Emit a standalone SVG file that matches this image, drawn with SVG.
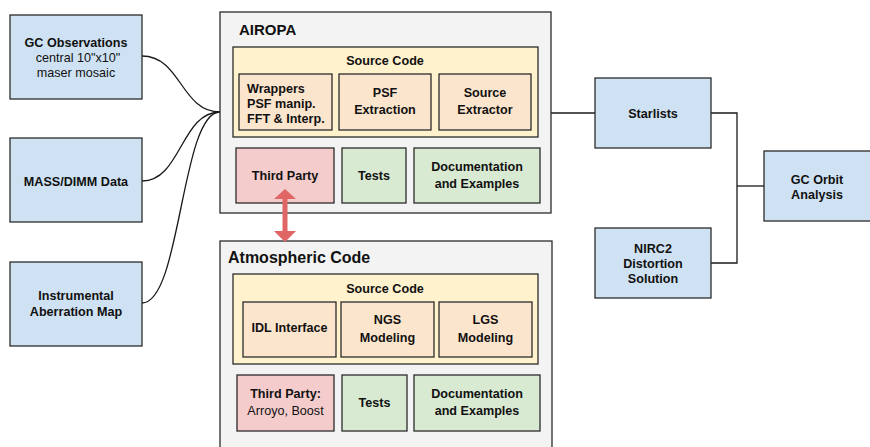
<svg xmlns="http://www.w3.org/2000/svg" width="870" height="447" viewBox="0 0 870 447">
<style>
text{font-family:"Liberation Sans",Arial,sans-serif;font-size:12.6px;font-weight:bold;fill:#111;text-anchor:middle}
.r{font-weight:normal}
.l{text-anchor:start}
.box{stroke:#2b2b2b;stroke-width:1.3}
.blue{fill:#cfe2f3}
.grey{fill:#f3f3f3}
.yellow{fill:#fff2cc}
.orange{fill:#fce5cd}
.red{fill:#f4cccc}
.green{fill:#d9ead3}
.conn{fill:none;stroke:#1a1a1a;stroke-width:1.3}
</style>
<rect width="870" height="447" fill="#ffffff"/>
<g id="connectors">
<path class="conn" d="M142,56 C181,56 181,112 220,112"/>
<path class="conn" d="M142,181 C181,181 181,112 220,112"/>
<path class="conn" d="M142,303 C181,303 181,112 220,112"/>
<path class="conn" d="M551,113 H595"/>
<path class="conn" d="M711,113 H737 V263 H711"/>
<path class="conn" d="M737,186 H764"/>
</g>
<g id="gc-observations">
<rect class="box blue" x="10" y="15" width="132" height="84"/>
<text x="76" y="47">GC Observations</text>
<text class="r" x="78" y="62">central 10"x10"</text>
<text class="r" x="76" y="77">maser mosaic</text>
</g>
<g id="mass-dimm">
<rect class="box blue" x="10" y="138" width="132" height="84"/>
<text x="76" y="186">MASS/DIMM Data</text>
</g>
<g id="instrumental">
<rect class="box blue" x="10" y="262" width="132" height="84"/>
<text x="76" y="300">Instrumental</text>
<text x="76" y="316">Aberration Map</text>
</g>
<g id="airopa">
<rect class="box grey" x="220" y="12" width="331" height="201"/>
<text class="l" x="239" y="35" style="font-size:15px">AIROPA</text>
<g id="airopa-source">
<rect class="box yellow" x="233" y="47" width="305" height="90"/>
<text x="385" y="65">Source Code</text>
</g>
<g id="airopa-wrappers">
<rect class="box orange" x="239" y="74" width="93" height="56"/>
<text class="l" x="247" y="93">Wrappers</text>
<text class="l" x="247" y="108">PSF manip.</text>
<text class="l" x="247" y="123">FFT &amp; Interp.</text>
</g>
<g id="airopa-psf">
<rect class="box orange" x="339" y="74" width="92" height="56"/>
<text x="385" y="97">PSF</text>
<text x="385" y="114">Extraction</text>
</g>
<g id="airopa-sextractor">
<rect class="box orange" x="439" y="74" width="92" height="56"/>
<text x="485" y="97">Source</text>
<text x="485" y="114">Extractor</text>
</g>
<g id="airopa-thirdparty">
<rect class="box red" x="236" y="148" width="98" height="55"/>
<text x="285" y="180">Third Party</text>
</g>
<g id="airopa-tests">
<rect class="box green" x="342" y="148" width="64" height="55"/>
<text x="374" y="180">Tests</text>
</g>
<g id="airopa-docs">
<rect class="box green" x="414" y="148" width="126" height="55"/>
<text x="477" y="171">Documentation</text>
<text x="477" y="188">and Examples</text>
</g>
</g>
<g id="atmospheric">
<rect class="box grey" x="220" y="241" width="332" height="220"/>
<text class="l" x="228" y="263" style="font-size:16px">Atmospheric Code</text>
<g id="atm-source">
<rect class="box yellow" x="233" y="274" width="305" height="90"/>
<text x="385" y="293">Source Code</text>
</g>
<g id="atm-idl">
<rect class="box orange" x="243" y="302" width="93" height="55"/>
<text x="289.5" y="332">IDL Interface</text>
</g>
<g id="atm-ngs">
<rect class="box orange" x="341" y="302" width="93" height="55"/>
<text x="387.5" y="324">NGS</text>
<text x="387.5" y="342">Modeling</text>
</g>
<g id="atm-lgs">
<rect class="box orange" x="439" y="302" width="93" height="55"/>
<text x="485.5" y="324">LGS</text>
<text x="485.5" y="342">Modeling</text>
</g>
<g id="atm-thirdparty">
<rect class="box red" x="237" y="375" width="97" height="56"/>
<text x="285.5" y="398">Third Party:</text>
<text class="r" x="285.5" y="415">Arroyo, Boost</text>
</g>
<g id="atm-tests">
<rect class="box green" x="342" y="375" width="65" height="56"/>
<text x="374.5" y="407">Tests</text>
</g>
<g id="atm-docs">
<rect class="box green" x="414" y="375" width="126" height="56"/>
<text x="477" y="398">Documentation</text>
<text x="477" y="415">and Examples</text>
</g>
</g>
<g id="link-arrow">
<path d="M285,189 L296,199 H287.5 V231 H296 L285,242 L274,231 H282.5 V199 H274 Z" fill="#e06666"/>
</g>
<g id="starlists">
<rect class="box blue" x="595" y="78" width="116" height="70"/>
<text x="653" y="118">Starlists</text>
</g>
<g id="nirc2">
<rect class="box blue" x="595" y="228" width="116" height="70"/>
<text x="653" y="253">NIRC2</text>
<text x="653" y="268">Distortion</text>
<text x="653" y="283">Solution</text>
</g>
<g id="gc-orbit">
<rect class="box blue" x="764" y="151" width="110" height="70"/>
<text x="817" y="184">GC Orbit</text>
<text x="817" y="199">Analysis</text>
</g>
</svg>
